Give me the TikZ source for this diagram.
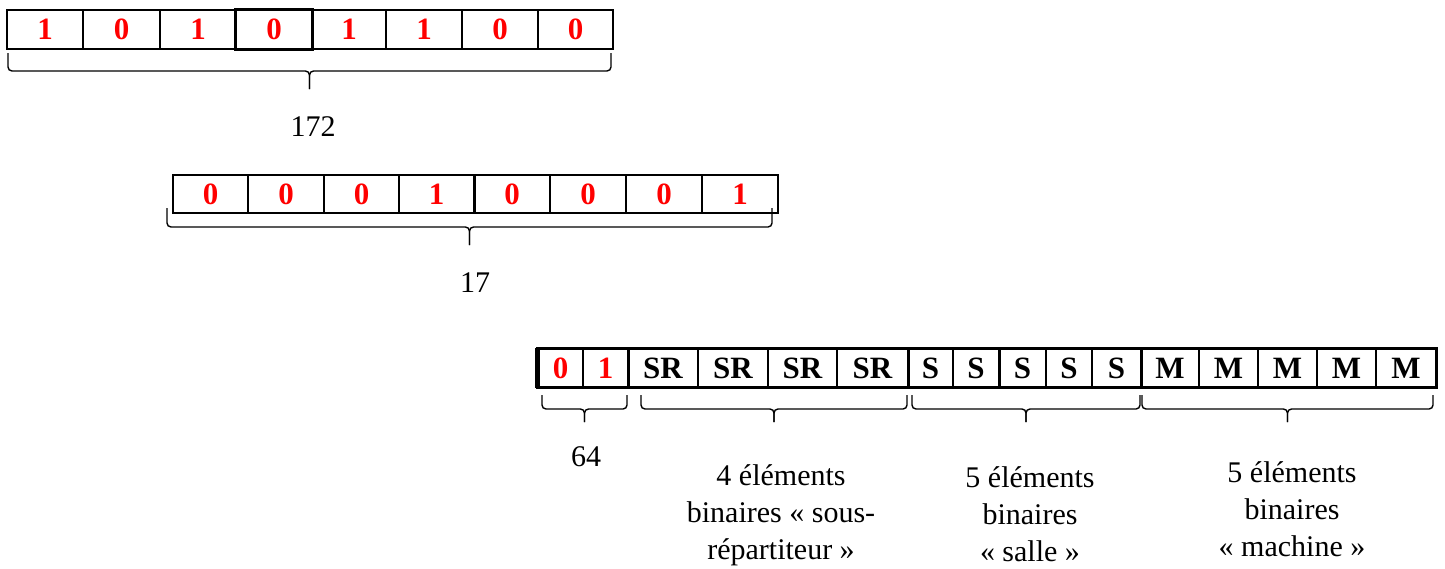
\documentclass[tikz,border=0pt]{standalone}
\usepackage{fontspec}
\setmainfont{Liberation Serif}
\begin{document}
\begin{tikzpicture}[x=1pt,y=-1pt,
  cell/.style={draw, line width=1.4pt, inner sep=0pt, font=\fontsize{31}{36}\selectfont\bfseries},
  bit/.style={cell, text=red},
  lbl/.style={font=\fontsize{30}{37}\selectfont, align=center, inner sep=0pt},
  brc/.style={line width=1.4pt, rounded corners=4pt},
  sep/.style={line width=3.5pt}]
\useasboundingbox (0,0) rectangle (1445,568);
% ---- row 1
\foreach \a/\b/\t [count=\i] in {7/83/1,83/160/0,160/236/1,236/312/0,312/386/1,386/462/1,462/538/0,538/613/0}{
  \pgfmathsetmacro\w{\b-\a}\pgfmathsetmacro\m{(\a+\b)/2}
  \node[bit, minimum width=\w pt, minimum height=39pt] (a\i) at (\m,29.5) {\t};
}
\draw[line width=2.4pt] (a4.north west) rectangle (a4.south east);
\draw[sep] (a4.north east) -- (a4.south east);
% ---- row 2
\foreach \a/\b/\t [count=\i] in {173/248/0,248/324/0,324/399/0,399/474/1,474/550/0,550/626/0,626/702/0,702/778/1}{
  \pgfmathsetmacro\w{\b-\a}\pgfmathsetmacro\m{(\a+\b)/2}
  \node[bit, minimum width=\w pt, minimum height=38pt] (b\i) at (\m,194) {\t};
}
\draw[sep] (b4.north east) -- (b4.south east);
% ---- row 3
\foreach \a/\b/\t/\c [count=\i] in {538/583/0/red,583/628/1/red,628/698/SR/black,698/768/SR/black,768/837/SR/black,837/908/SR/black,908/953/S/black,953/999/S/black,999/1046/S/black,1046/1092/S/black,1092/1141/S/black,1141/1199/M/black,1199/1258/M/black,1258/1317/M/black,1317/1376/M/black,1376/1436/M/black}{
  \pgfmathsetmacro\w{\b-\a}\pgfmathsetmacro\m{(\a+\b)/2}
  \node[cell, text=\c, minimum width=\w pt, minimum height=38pt] (c\i) at (\m,368) {\t};
}
\draw[line width=3pt] (c1.north west) rectangle (c16.south east);
\draw[line width=5pt] (c1.north west) -- (c1.south west);
\draw[sep] (c2.north east) -- (c2.south east);
\draw[sep] (c6.north east) -- (c6.south east);
\draw[line width=2.6pt] (c8.north east) -- (c8.south east);
\draw[sep] (c11.north east) -- (c11.south east);
% ---- braces
\newcommand\mybrace[6]{%
  \coordinate (#6l) at (#1,#3); \coordinate (#6r) at (#2,#3);
  \coordinate (#6t) at ({(#1+#2)/2},#5);
  \draw[brc] (#6l) -- (#1,#4) -- ({(#1+#2)/2},#4) -- (#6t);
  \draw[brc] (#6r) -- (#2,#4) -- ({(#1+#2)/2},#4) -- (#6t);}
\mybrace{8}{611}{53}{71}{89}{ba}
\mybrace{167}{772}{208}{227}{245}{bb}
\mybrace{542}{627}{395}{409}{422}{bc}
\mybrace{641}{907}{395}{409}{422}{bd}
\mybrace{912}{1140}{395}{409}{422}{be}
\mybrace{1142}{1433}{395}{409}{422}{bf}
% ---- labels
\node[lbl] (l1) at (313,127) {172};
\node[lbl] (l2) at (475,283) {17};
\node[lbl] (l3) at (586,457) {64};
\node[lbl] (l4) at (781,515) {4 éléments\\binaires « sous-\\répartiteur »};
\node[lbl] (l5) at (1030,514) {5 éléments\\binaires\\« salle »};
\node[lbl] (l6) at (1292,509) {5 éléments\\binaires\\« machine »};
\end{tikzpicture}
\end{document}
